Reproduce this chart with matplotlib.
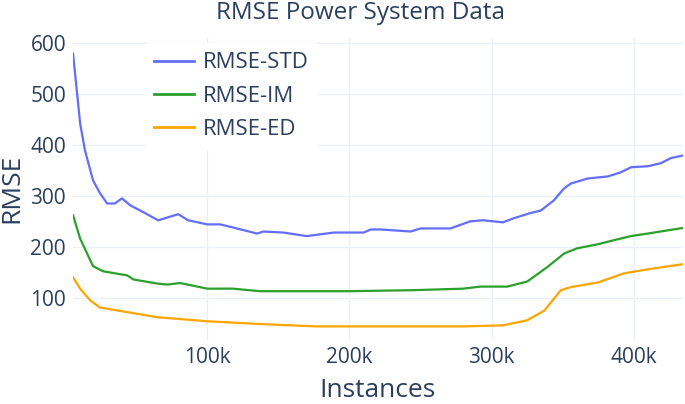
import matplotlib.pyplot as plt
from matplotlib.ticker import FuncFormatter

plt.rcParams['font.family'] = ['Open Sans', 'DejaVu Sans']

# instances in thousands, RMSE values
std_x = [5.6, 10.6, 14, 19.7, 24.6, 29.6, 35, 40, 46, 53, 65.5, 79.6, 86.6, 100, 109,
         118, 135, 139.5, 153.5, 170, 189, 210, 215, 222, 243, 250, 271, 285, 294, 308,
         315.5, 327, 334.5, 343.7, 350.7, 355.6, 367.6, 381.7, 390.8, 398, 410, 419,
         426, 434.5]
std_y = [580, 443, 390, 331, 306, 286, 286, 296, 282, 272, 253, 265, 253, 245, 245,
         239, 227, 231, 229, 222, 229, 229, 235, 235, 231, 237, 237, 251, 253, 249,
         257, 267, 272, 292, 315, 325, 335, 339, 347, 357, 359, 365, 375, 380]

im_x = [5.6, 10.6, 19.7, 26.8, 43.7, 48, 64.8, 72, 81, 100, 118, 137, 200, 245,
        280, 292, 311, 325, 339, 351, 360, 374.6, 386, 398, 412, 434.5]
im_y = [263, 217, 163, 153, 145, 137, 129, 127, 130, 119, 119, 114, 114, 116,
        119, 123, 123, 133, 161, 188, 198, 206, 214, 222, 228, 238]

ed_x = [5.6, 10.6, 17.6, 24.6, 43.7, 64.8, 100, 142, 177, 280, 308, 325, 337,
        348.6, 355.6, 374.6, 393, 410, 434.5]
ed_y = [141, 119, 96, 82, 73, 63, 55, 49, 45, 45, 47, 57, 76, 116, 122, 131,
        149, 157, 167]

series = [
    ('RMSE-STD', std_x, std_y, '#636efa'),
    ('RMSE-IM', im_x, im_y, '#2ca02c'),
    ('RMSE-ED', ed_x, ed_y, '#ffa500'),
]

text_color = '#2a3f5f'
grid_color = '#ebf0f8'

fig = plt.figure(figsize=(6.85, 4.04), dpi=100)
ax = fig.add_axes([0.1066, 0.158, 0.8904, 0.75])

for name, xs, ys, color in series:
    ax.plot([v * 1000 for v in xs], ys, color=color, lw=1.6, label=name,
            solid_joinstyle='round')

ax.set_xlim(5600, 434500)
ax.set_ylim(18, 612)
ax.set_xticks([100000, 200000, 300000, 400000])
ax.set_yticks([100, 200, 300, 400, 500, 600])
ax.xaxis.set_major_formatter(FuncFormatter(lambda v, p: f'{int(v / 1000)}k'))
ax.grid(True, color=grid_color, lw=1)
ax.set_axisbelow(True)
for s in ax.spines.values():
    s.set_visible(False)
ax.tick_params(length=0, labelsize=15, colors=text_color, pad=5)

fig.text(0.526, 0.968, 'RMSE Power System Data', fontsize=17.5, color=text_color,
         ha='center', va='center')
ax.set_xlabel('Instances', fontsize=19, color=text_color, labelpad=7)
ax.set_ylabel('RMSE', fontsize=19, color=text_color, labelpad=4)

leg = ax.legend(loc='upper left', bbox_to_anchor=(0.1, 1.016), frameon=True,
                fontsize=16, handlelength=1.8, handletextpad=0.4, labelspacing=0.55,
                borderpad=0.4, labelcolor=text_color)
leg.get_frame().set_facecolor('white')
leg.get_frame().set_edgecolor('white')
leg.get_frame().set_alpha(1)
for line in leg.get_lines():
    line.set_linewidth(2)

fig.savefig('out.png', dpi=100)
